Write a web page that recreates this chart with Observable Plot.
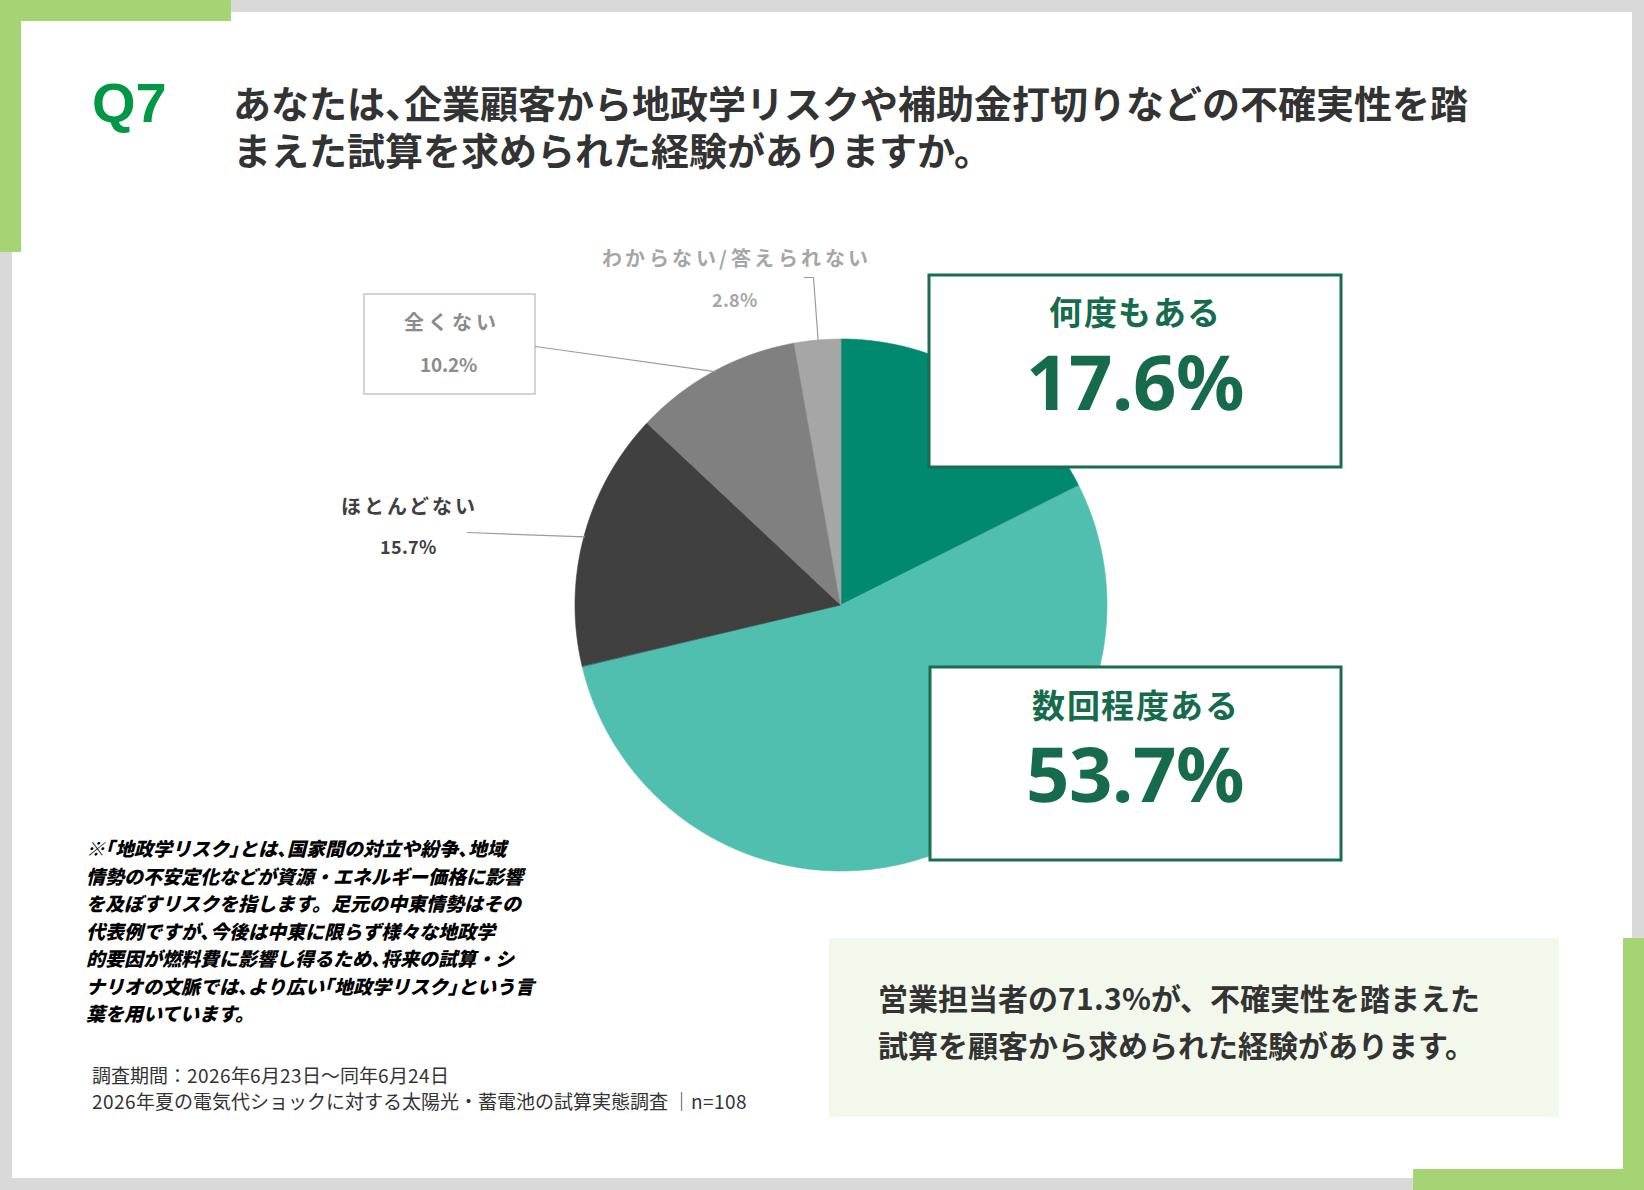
<!DOCTYPE html>
<html><head><meta charset="utf-8">
<script src="https://cdn.jsdelivr.net/npm/d3@7"></script>
<script src="https://cdn.jsdelivr.net/npm/@observablehq/plot@0.6"></script>
<style>
@font-face{font-family:"JPTight";src:local("Noto Sans CJK JP Bold"),local("NotoSansCJKjp-Bold");font-weight:700;ascent-override:88%;descent-override:12%;line-gap-override:0%;}
@font-face{font-family:"JPTight";src:local("Noto Sans CJK JP Black"),local("NotoSansCJKjp-Black");font-weight:900;ascent-override:88%;descent-override:12%;line-gap-override:0%;}
@font-face{font-family:"JPTight";src:local("Noto Sans CJK JP Regular"),local("NotoSansCJKjp-Regular");font-weight:400;ascent-override:88%;descent-override:12%;line-gap-override:0%;}
@font-face{font-family:"NumTight";src:local("Noto Sans Bold"),local("NotoSans-Bold");font-weight:700;ascent-override:80%;descent-override:10%;line-gap-override:0%;}
html,body{margin:0;padding:0;width:1644px;height:1190px;overflow:hidden;background:#d9d9d9;}
#page{position:relative;width:1644px;height:1190px;background:#d9d9d9;font-family:"JPTight","Noto Sans CJK JP","Noto Sans",sans-serif;}
.abs{position:absolute;}
.green{background:#a6d474;}
.h{font-feature-settings:"halt";}
#chart{left:0;top:0;width:1644px;height:1190px;}
#q7{left:92px;top:75px;font-family:"Liberation Sans",Arial,sans-serif;font-weight:700;font-size:56px;line-height:56px;color:#009844;}
#title{left:233px;top:81px;font-weight:700;font-size:38px;line-height:47px;color:#333;white-space:nowrap;}
#note{left:86px;top:835px;font-weight:900;font-style:italic;font-size:19px;line-height:27.5px;color:#000;white-space:nowrap;}
#footer{left:92px;top:1063px;font-weight:400;font-size:19px;line-height:26px;color:#333;white-space:nowrap;}
#summary{left:878px;top:976px;font-weight:700;font-size:30px;line-height:47px;color:#333;white-space:nowrap;}
</style></head><body>
<div id="page">
  <div class="abs" style="left:12px;top:12px;width:1620px;height:1166px;background:#fff"></div>
  <div class="abs green" style="left:0;top:0;width:231px;height:21px"></div>
  <div class="abs green" style="left:0;top:0;width:21px;height:252px"></div>
  <div class="abs green" style="left:1623px;top:938px;width:21px;height:252px"></div>
  <div class="abs green" style="left:1413px;top:1169px;width:231px;height:21px"></div>
  <div class="abs" style="left:829px;top:938px;width:730px;height:179px;background:#f2f8ec"></div>
  <div id="chart" class="abs"></div>
  <div id="q7" class="abs">Q7</div>
  <div id="title" class="abs"></div>
  <div id="note" class="abs"></div>
  <div id="footer" class="abs"></div>
  <div id="summary" class="abs"></div>
</div>
<script>
// ---- data ----
const categories = ["何度もある", "数回程度ある", "ほとんどない", "全くない", "わからない/答えられない"];
const values = [17.6, 53.7, 15.7, 10.2, 2.8];
const sliceColors = ["#00896f", "#50bfaf", "#404040", "#808080", "#a6a6a6"];
const questionLabel = "Q7";
const titleLines = [
  "あなたは、企業顧客から地政学リスクや補助金打切りなどの不確実性を踏",
  "まえた試算を求められた経験がありますか。"
];
const noteLines = [
  "※「地政学リスク」とは、国家間の対立や紛争、地域",
  "情勢の不安定化などが資源・エネルギー価格に影響",
  "を及ぼすリスクを指します。足元の中東情勢はその",
  "代表例ですが、今後は中東に限らず様々な地政学",
  "的要因が燃料費に影響し得るため、将来の試算・シ",
  "ナリオの文脈では、より広い「地政学リスク」という言",
  "葉を用いています。"
];
const footerLines = [
  "調査期間：2026年6月23日～同年6月24日",
  "2026年夏の電気代ショックに対する太陽光・蓄電池の試算実態調査 │n=108"
];
const summaryLines = [
  "営業担当者の71.3%が、不確実性を踏まえた",
  "試算を顧客から求められた経験があります。"
];

// ---- text blocks ----
const halt = s => s.replace(/[、「」]/g, m => `<span class="h">${m}</span>`);
document.getElementById("q7").textContent = questionLabel;
document.getElementById("title").innerHTML = titleLines.map(halt).join("<br>");
document.getElementById("note").innerHTML = noteLines.map(halt).join("<br>");
document.getElementById("footer").innerHTML = footerLines.join("<br>");
document.getElementById("summary").innerHTML = summaryLines.join("<br>");

// ---- layout (pixels) ----
const W = 1644, H = 1190;
const CX = 841, CY = 605, R = 266;
const ux = px => (px - CX) / R;
const uy = py => (CY - py) / R;

// ---- pie geometry from values ----
const arcs = d3.pie().sort(null).value(d => d)(values);
const piePoints = arcs.flatMap((a, i) => {
  const n = Math.max(2, Math.ceil((a.endAngle - a.startAngle) / (Math.PI / 360)));
  return d3.range(n + 1).map(k => {
    const t = a.startAngle + (a.endAngle - a.startAngle) * k / n;
    return {cat: categories[i], x: Math.sin(t), y: Math.cos(t), x0: 0, y0: 0};
  });
});
const midAngle = i => (arcs[i].startAngle + arcs[i].endAngle) / 2;
const edge = i => ({x: Math.sin(midAngle(i)), y: Math.cos(midAngle(i))});

// leader lines: label anchor -> slice mid-angle on the rim
const leaders = [
  {i: 4, pts: [[804, 277], [813, 277]]},
  {i: 3, pts: [[535, 346]]},
  {i: 2, pts: [[467, 532]]}
].flatMap(l => [...l.pts.map(([px, py]) => ({g: l.i, x: ux(px), y: uy(py)})), {g: l.i, ...edge(l.i)}]);

const pct = v => v.toFixed(1) + "%";
const boxGreen = "#1b6d4f";
const textGreen = "#176b4d";

function label(i, px, py, kind, opts) {
  return Plot.text([i], {
    x: () => ux(px), y: () => uy(py),
    text: d => kind === "name" ? categories[d] : pct(values[d]),
    textAnchor: "middle", lineAnchor: "middle",
    fontFamily: kind === "big" ? "NumTight, 'Noto Sans'" : "JPTight, 'Noto Sans CJK JP'",
    fontWeight: 700,
    ...opts
  });
}
const boxes = [
  {x1: ux(929), x2: ux(1341), y1: uy(275), y2: uy(467)},
  {x1: ux(930), x2: ux(1341), y1: uy(667), y2: uy(860)}
];

const chart = Plot.plot({
  width: W, height: H, margin: 0,
  x: {domain: [-1, 1], range: [CX - R, CX + R], axis: null},
  y: {domain: [-1, 1], range: [CY + R, CY - R], axis: null},
  color: {domain: categories, range: sliceColors},
  style: {background: "transparent", overflow: "visible"},
  marks: [
    Plot.area(piePoints, {x1: "x0", y1: "y0", x2: "x", y2: "y", z: "cat", fill: "cat", stroke: "cat", strokeWidth: 0.6, curve: "linear"}),
    Plot.rect(boxes, {x1: "x1", x2: "x2", y1: "y1", y2: "y2", fill: "#fff", stroke: boxGreen, strokeWidth: 3}),
    Plot.rect([0], {x1: () => ux(364), x2: () => ux(535), y1: () => uy(294), y2: () => uy(394), fill: "#fff", stroke: "#a9a9a9", strokeWidth: 1}),
    Plot.line(leaders, {x: "x", y: "y", z: "g", stroke: "#9c9c9c", strokeWidth: 1.2}),
    label(0, 1135, 314, "name", {fontSize: 33, fill: textGreen}),
    label(0, 1135, 385, "big", {fontSize: 76, fill: textGreen}),
    label(1, 1135, 707, "name", {fontSize: 33, fill: textGreen}),
    label(1, 1135, 777, "big", {fontSize: 76, fill: textGreen}),
    label(4, 736, 259, "name", {fontSize: 20, fill: "#a6a6a6"}),
    label(4, 734, 301, "pct", {fontSize: 18, fill: "#a6a6a6"}),
    label(3, 451, 323, "name", {fontSize: 20, fill: "#8c8c8c"}),
    label(3, 448, 365, "pct", {fontSize: 19, fill: "#8c8c8c"}),
    label(2, 409, 507, "name", {fontSize: 20, fill: "#404040"}),
    label(2, 407, 548, "pct", {fontSize: 18, fill: "#404040"})
  ]
});
// letter spacing of the pie labels
chart.querySelectorAll("text").forEach(t => {
  const s = t.textContent;
  if (s === categories[4]) t.setAttribute("letter-spacing", "3.5");
  if (s === categories[3]) t.setAttribute("letter-spacing", "4");
  if (s === categories[2]) t.setAttribute("letter-spacing", "3");
  if (s === categories[0] || s === categories[1]) t.setAttribute("letter-spacing", "1.5");
});
document.getElementById("chart").appendChild(chart);
</script>
</body></html>
